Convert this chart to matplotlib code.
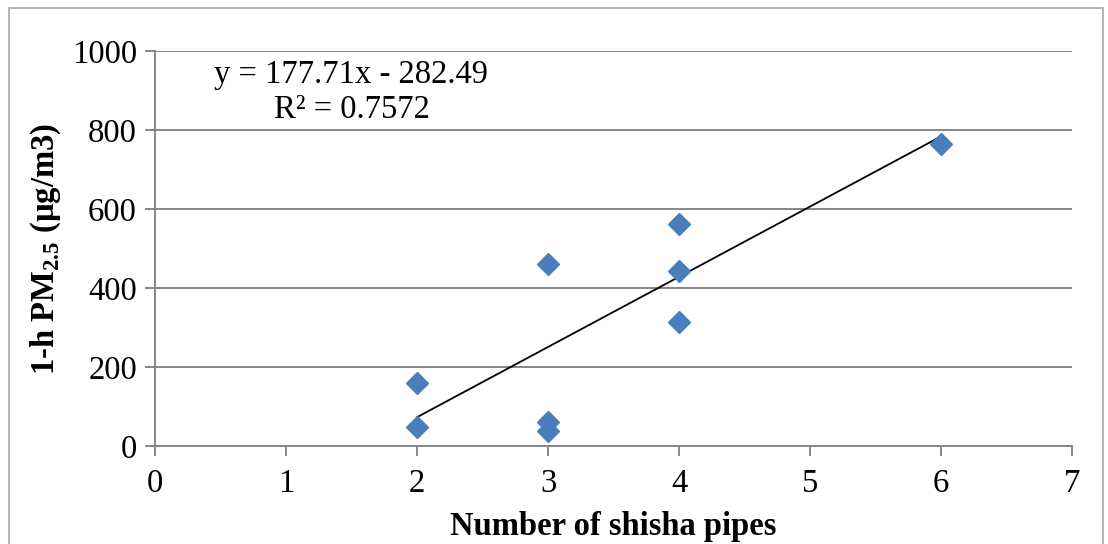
import matplotlib
matplotlib.use("Agg")
import matplotlib.pyplot as plt
import numpy as np
from matplotlib.patches import Rectangle

# data
pipes = [2, 2, 3, 3, 3, 4, 4, 4, 6]
pm25 = [160, 47, 462, 60, 38, 562, 442, 313, 765]
x_ticks = [0, 1, 2, 3, 4, 5, 6, 7]
y_ticks = [0, 200, 400, 600, 800, 1000]

# trendline as printed on the chart
slope = 177.71
intercept = -282.49
eq_text = "y = 177.71x - 282.49"
r2_text = "R² = 0.7572"

plt.rcParams["font.family"] = ["Liberation Serif", "DejaVu Serif"]
plt.rcParams["mathtext.fontset"] = "custom"
plt.rcParams["mathtext.rm"] = "Liberation Serif"
plt.rcParams["mathtext.bf"] = "Liberation Serif:bold"

grid_col = "#868686"
marker_col = "#4A7EBB"
fs = 23.5

fig = plt.figure(figsize=(11.08, 5.44), dpi=100)
ax = fig.add_axes([155 / 1108, 1 - 446 / 544, (1072 - 155) / 1108, (446 - 51) / 544])

# outer chart border
fig.patches.append(Rectangle((9 / 1108, -0.01), (1103 - 9) / 1108, 1 - 8 / 544 + 0.01,
                             transform=fig.transFigure, fill=False,
                             edgecolor="#A6A6A6", linewidth=1.2))

ax.set_axisbelow(True)
ax.grid(axis="y", color=grid_col, linewidth=1.4)

# linear trendline over the data range
xs = np.array([min(pipes), max(pipes)])
ax.plot(xs, slope * xs + intercept, color="black", linewidth=1.3, zorder=3)

ax.plot(pipes, pm25, linestyle="none", marker="D", markersize=11,
        color=marker_col, markeredgecolor=marker_col, zorder=4)

ax.set_xlim(0, 7)
ax.set_ylim(0, 1000)
ax.set_xticks(x_ticks)
ax.set_yticks(y_ticks)
ax.tick_params(axis="both", labelsize=fs, color=grid_col, width=1.4,
               length=7, direction="out")
ax.tick_params(axis="x", pad=9)
ax.tick_params(axis="y", pad=6)

for side in ["top", "right"]:
    ax.spines[side].set_visible(False)
for side in ["left", "bottom"]:
    ax.spines[side].set_color(grid_col)
    ax.spines[side].set_linewidth(1.4)

ax.set_xlabel("Number of shisha pipes", fontsize=fs, fontweight="bold", labelpad=9)
ax.set_ylabel(r"1-h PM$_\mathbf{2.5}$ (µg/m3)", fontsize=fs, fontweight="bold", labelpad=6)

ax.text(1.5, 939, eq_text, fontsize=fs, ha="center", va="center")
ax.text(1.5, 851, r2_text, fontsize=fs, ha="center", va="center")

fig.savefig("out.png", dpi=100)
